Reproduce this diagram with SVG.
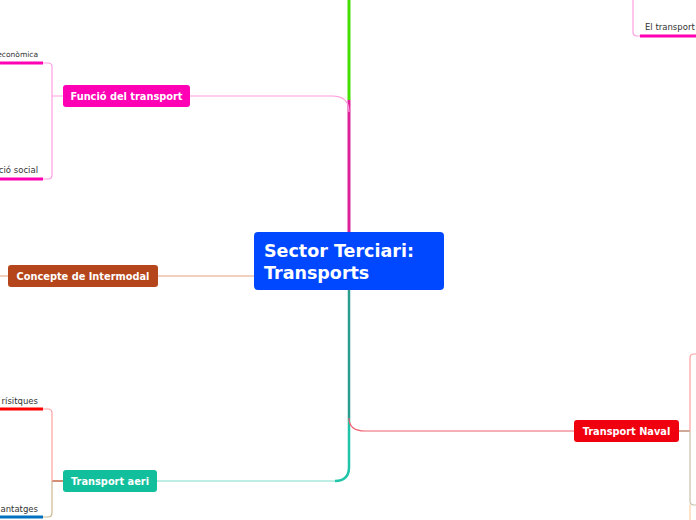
<svg xmlns="http://www.w3.org/2000/svg" width="696" height="520" viewBox="0 0 696 520">
<style>
.lbl{font-family:"DejaVu Sans",sans-serif;font-weight:bold;font-size:9.8px;fill:#fff}
.sub{font-family:"DejaVu Sans",sans-serif;font-size:8.5px;fill:#333}
.c{fill:none}
</style>
<rect width="696" height="520" fill="#fff"/>
<g id="connectors" class="c">
<path d="M349 0V100" stroke="#44dd00" stroke-width="3"/>
<path d="M349 100V232" stroke="#dd2299" stroke-width="3"/>
<path d="M349 290V420" stroke="#2a9d8f" stroke-width="2.5"/>
<path d="M349 420V467Q349 481 335 481" stroke="#20c4a8" stroke-width="2.5"/>
<path d="M335 481H157" stroke="#7fdcc8" stroke-width="1.2"/>
<path d="M349 418Q349 431 365 431H574" stroke="#f06070" stroke-width="1.2"/>
<path d="M190 96H332Q349 96 349 112" stroke="#ff99dd" stroke-width="1.2"/>
<path d="M158 276H254M0 276H8" stroke="#e8a080" stroke-width="1.2"/>
<path d="M63 96H52M43 63H48Q52 63 52 67V175Q52 179 48 179H43" stroke="#ffa0e0" stroke-width="1.2"/>
<path d="M0 63H43M0 179H43" stroke="#ff00b4" stroke-width="3"/>
<path d="M63 481H52" stroke="#b5451b" stroke-width="1.2"/>
<path d="M43 409H48Q52 409 52 413V481" stroke="#ffa0a0" stroke-width="1.2"/>
<path d="M52 481V513Q52 517 48 517H43" stroke="#c8b890" stroke-width="1.2"/>
<path d="M0 409H43" stroke="#ff0000" stroke-width="3"/>
<path d="M0 517H43" stroke="#0070c0" stroke-width="3"/>
<path d="M679 431H690" stroke="#b07050" stroke-width="1.2"/>
<path d="M696 354H694Q690 354 690 358V431" stroke="#ffa0a0" stroke-width="1.2"/>
<path d="M690 431V501Q690 505 694 505H696" stroke="#c8c0a8" stroke-width="1.2"/>
<path d="M690 505V520" stroke="#ffd0a0" stroke-width="1.2"/>
<path d="M633 0V32Q633 36 637 36H640" stroke="#ffa0e0" stroke-width="1.2"/>
<path d="M640 36H696" stroke="#ff00b4" stroke-width="3"/>
</g>
<g id="center">
<rect x="254" y="232" width="190" height="58" rx="4" fill="#0048ff"/>
<text x="264" y="257" style="font-family:'DejaVu Sans',sans-serif;font-weight:bold;font-size:17.5px;fill:#fff">Sector Terciari:</text>
<text x="264" y="279" style="font-family:'DejaVu Sans',sans-serif;font-weight:bold;font-size:17.5px;fill:#fff">Transports</text>
</g>
<g id="funcio">
<rect x="63" y="85" width="127" height="22" rx="3" fill="#ff00b4"/>
<text x="126.5" y="100" text-anchor="middle" class="lbl">Funció del transport</text>
</g>
<g id="economica"><text x="38" y="57" text-anchor="end" class="sub" style="font-size:7.5px">econòmica</text></g>
<g id="social"><text x="38" y="173" text-anchor="end" class="sub">ació social</text></g>
<g id="intermodal">
<rect x="8" y="265" width="150" height="22" rx="3" fill="#b5451b"/>
<text x="83" y="280" text-anchor="middle" class="lbl">Concepte de Intermodal</text>
</g>
<g id="aeri">
<rect x="63" y="470" width="94" height="22" rx="3" fill="#12bf9c"/>
<text x="110" y="485" text-anchor="middle" class="lbl">Transport aeri</text>
</g>
<g id="caract"><text x="38" y="404" text-anchor="end" class="sub">rísitques</text></g>
<g id="avant"><text x="38" y="512" text-anchor="end" class="sub">antatges</text></g>
<g id="naval">
<rect x="574" y="420" width="105" height="22" rx="3" fill="#f0000f"/>
<text x="626.5" y="435" text-anchor="middle" class="lbl">Transport Naval</text>
</g>
<g id="eltransport"><text x="645" y="30" class="sub">El transport</text></g>
</svg>
